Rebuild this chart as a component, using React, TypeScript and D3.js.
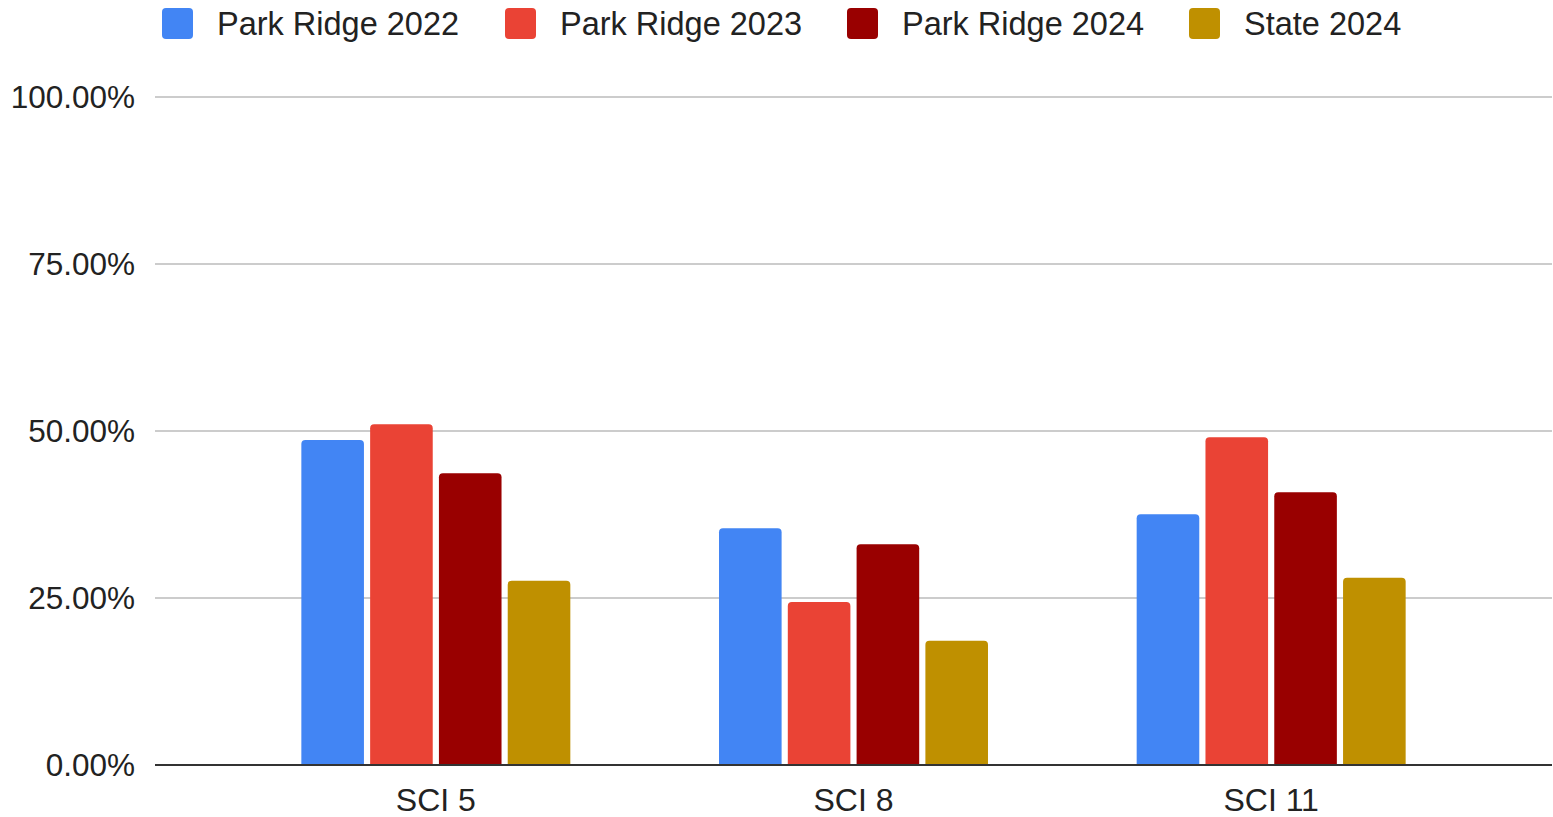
import React from "react";
import * as d3 from "d3";

const categories = ["SCI 5", "SCI 8", "SCI 11"];
const seriesNames = ["Park Ridge 2022", "Park Ridge 2023", "Park Ridge 2024", "State 2024"];
const parkRidge2022 = [48.65, 35.43, 37.53];
const parkRidge2023 = [51.0, 24.4, 49.06];
const parkRidge2024 = [43.67, 33.04, 40.82];
const state2024 = [27.6, 18.6, 28.04];
const yTicks = [0, 25, 50, 75, 100];
const colors = ["#4285F4", "#EA4335", "#990000", "#BF9000"];

const seriesValues = [parkRidge2022, parkRidge2023, parkRidge2024, state2024];

const W = 1553;
const H = 817;
const FONT = "Liberation Sans, Arial, sans-serif";

function topRoundedRect(x: number, y: number, w: number, h: number, r: number) {
  const rr = Math.min(r, w / 2, h);
  return `M${x},${y + h}V${y + rr}Q${x},${y} ${x + rr},${y}H${x + w - rr}Q${x + w},${y} ${x + w},${y + rr}V${y + h}Z`;
}

export default function App() {
  const y = d3.scaleLinear().domain([0, 100]).range([765, 97]);
  const x0 = d3.scaleBand<string>().domain(categories).range([227, 1480]).paddingInner(0.356).paddingOuter(0.178);
  const x1 = d3
    .scaleBand<number>()
    .domain(seriesNames.map((_, i) => i))
    .range([0, x0.bandwidth()])
    .paddingInner(0.09);

  const legendX = [162, 505, 847, 1189];

  return (
    <svg width={W} height={H} style={{ position: "absolute", left: 0, top: 0, background: "#fff" }}>
      <rect x={0} y={0} width={W} height={H} fill="#fff" />
      {yTicks.map((t) =>
        t === 0 ? null : (
          <line key={"g" + t} x1={155} x2={1552} y1={y(t)} y2={y(t)} stroke="#cccccc" strokeWidth={2} />
        )
      )}
      {yTicks.map((t) => (
        <text
          key={"t" + t}
          x={135}
          y={y(t)}
          textAnchor="end"
          dominantBaseline="central"
          fontFamily={FONT}
          fontSize={31.5}
          fill="#222"
        >
          {d3.format(".2f")(t) + "%"}
        </text>
      ))}
      {categories.map((c, ci) =>
        seriesValues.map((vals, si) => {
          const bx = (x0(c) as number) + (x1(si) as number);
          const by = y(vals[ci]);
          return (
            <path
              key={c + si}
              d={topRoundedRect(bx, by, x1.bandwidth(), y(0) - by, 4)}
              fill={colors[si]}
            />
          );
        })
      )}
      <line x1={155} x2={1552} y1={y(0)} y2={y(0)} stroke="#333" strokeWidth={2} />
      {categories.map((c) => (
        <text
          key={"x" + c}
          x={(x0(c) as number) + x0.bandwidth() / 2}
          y={800}
          textAnchor="middle"
          dominantBaseline="central"
          fontFamily={FONT}
          fontSize={32}
          fill="#222"
        >
          {c}
        </text>
      ))}
      {seriesNames.map((s, i) => (
        <g key={"l" + s}>
          <rect x={legendX[i]} y={8} width={31} height={31} rx={4} fill={colors[i]} />
          <text
            x={legendX[i] + 55}
            y={24}
            dominantBaseline="central"
            fontFamily={FONT}
            fontSize={32.5}
            fill="#222"
          >
            {s}
          </text>
        </g>
      ))}
    </svg>
  );
}
